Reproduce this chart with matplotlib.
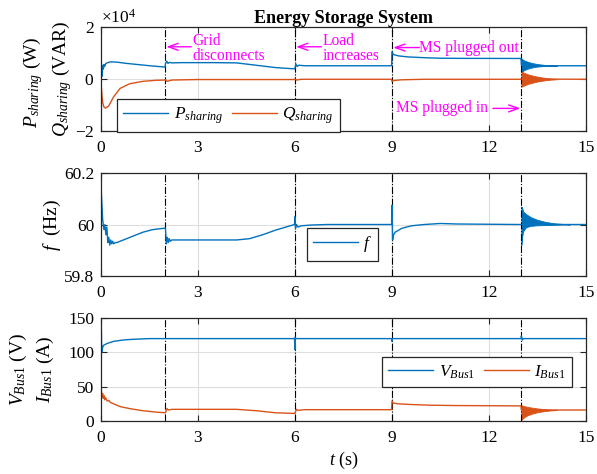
import matplotlib
matplotlib.use('Agg')
import matplotlib.pyplot as plt
from matplotlib.ticker import FormatStrFormatter

plt.rcParams['font.family'] = ['Liberation Serif', 'DejaVu Serif']
plt.rcParams['mathtext.fontset'] = 'custom'
plt.rcParams['mathtext.rm'] = 'Liberation Serif'
plt.rcParams['mathtext.it'] = 'Liberation Serif:italic'
plt.rcParams['mathtext.bf'] = 'Liberation Serif:bold'
plt.rcParams['axes.unicode_minus'] = False

BLUE = '#0072BD'
ORANGE = '#D95319'
MAG = '#FF00FF'

events = [2, 6, 9, 13]
xticks = [0, 3, 6, 9, 12, 15]

# ---- panel 1: power sharing (W / VAR) ----
t_p = [0, 0.02, 0.04, 0.06, 0.08, 0.1, 0.12, 0.16, 0.2, 0.3, 0.5, 0.8, 1.2, 1.6, 1.99,
       2.0, 2.04, 2.08, 2.12, 2.2, 2.5, 3.5, 4.2, 4.8, 5.4, 5.99,
       6.0, 6.03, 6.07, 6.12, 6.3, 7, 8.99,
       9.0, 9.05, 9.2, 9.5, 10, 10.5, 11, 12.99, 13.0, 13.1, 13.3, 13.6, 14.0, 15]
P = [0, 3500, 1000, 5200, 3800, 5600, 4800, 6000, 6200, 6600, 6500, 6000, 5500, 5000, 4600,
     5800, 6900, 6000, 6400, 6200, 6300, 6300, 6200, 5300, 4400, 3900,
     4000, 5800, 4800, 5300, 5100, 5100, 5100,
     10500, 9400, 8900, 8500, 8200, 8000, 7950, 7900, 5300, 5200, 5200, 5100, 5100, 5100]

t_q = [0, 0.03, 0.06, 0.1, 0.15, 0.25, 0.4, 0.6, 0.9, 1.3, 1.7, 1.99,
       2.0, 2.05, 2.2, 3, 5.99, 6.0, 6.05, 6.2, 8.99, 9.0, 9.05, 9.3, 10, 12.99, 13.0, 15]
Q = [0, -5000, -9000, -10800, -11200, -10300, -6800, -3600, -1800, -900, -500, -400,
     -200, -900, -400, -200, -200, 0, -400, -100, -100, -900, -600, -300, -100, -100, 0, -100]

# oscillation envelopes after the MS plug-in at 13 s
t_env = [13.0, 13.03, 13.1, 13.2, 13.35, 13.5, 13.7, 13.9, 14.1]
P_hi = [7900, 7600, 7100, 6600, 6100, 5750, 5450, 5250, 5100]
P_lo = [2800, 3000, 3500, 4000, 4500, 4800, 5000, 5080, 5100]
Q_hi = [2800, 2700, 2300, 1800, 1300, 900, 500, 200, 0]
Q_lo = [-2950, -2800, -2400, -1900, -1400, -950, -550, -250, -100]

# ---- panel 2: frequency (Hz) ----
t_f = [0, 0.02, 0.06, 0.1, 0.13, 0.16, 0.19, 0.22, 0.25, 0.28, 0.31, 0.34, 0.37, 0.4,
       0.45, 0.5, 0.6, 0.8, 1.0, 1.3, 1.6, 1.99,
       2.0, 2.03, 2.06, 2.09, 2.12, 2.15, 2.2, 2.3, 2.5, 3, 4.2, 4.6, 5.0, 5.4, 5.8, 5.99,
       6.0, 6.02, 6.05, 6.1, 6.2, 6.5, 7, 8.99,
       9.0, 9.02, 9.05, 9.1, 9.3, 9.6, 10, 10.5, 11, 12.99, 13.0, 14.0, 15]
f = [60.16, 60.12, 60.02, 59.98, 60.0, 59.96, 59.99, 59.93, 59.95, 59.92, 59.94, 59.925,
     59.935, 59.925, 59.93, 59.93, 59.935, 59.945, 59.955, 59.97, 59.98, 59.986,
     59.985, 59.925, 59.95, 59.93, 59.945, 59.935, 59.94, 59.94, 59.94, 59.94, 59.94, 59.945,
     59.96, 59.978, 59.993, 60.0,
     60.03, 59.985, 60.0, 59.99, 59.995, 59.998, 60.0, 60.0,
     60.075, 59.94, 59.96, 59.97, 59.985, 59.995, 60.0, 60.004, 60.002, 60.0, 60.0, 60.0, 60.0]
t_fenv = [13.0, 13.02, 13.06, 13.15, 13.3, 13.5, 13.75, 14.0, 14.3, 14.5]
f_hi = [60.07, 60.065, 60.05, 60.04, 60.028, 60.018, 60.01, 60.005, 60.002, 60.0]
f_lo = [59.92, 59.95, 59.975, 59.99, 59.995, 59.997, 59.998, 59.999, 60.0, 60.0]

# ---- panel 3: bus voltage (V) and current (A) ----
t_v = [0, 0.01, 0.02, 0.03, 0.05, 0.08, 0.12, 0.2, 0.4, 0.7, 1.0, 1.5, 5.99,
       6.0, 6.01, 6.03, 8.99, 9.0, 9.02, 12.99, 13.0, 13.03, 13.06, 15]
V = [0, 60, 130, 100, 105, 110, 111, 113, 116, 118, 119, 120, 120,
     104, 122, 120, 120, 116, 120, 120, 124, 118, 120, 120]

t_i = [0, 0.01, 0.02, 0.04, 0.06, 0.08, 0.1, 0.12, 0.15, 0.2, 0.25, 0.3, 0.4, 0.6, 0.9,
       1.3, 1.7, 1.99, 2.0, 2.05, 2.1, 2.2, 3, 4.2, 4.8, 5.4, 5.99,
       6.0, 6.05, 6.1, 6.3, 8.99, 9.0, 9.05, 9.2, 9.6, 10.2, 11, 12.99, 13.0, 13.5, 15]
I = [5, 50, 45, 35, 40, 33, 37, 31, 34, 29, 30, 27, 25, 21, 18,
     15, 13, 12, 12, 18, 16, 17, 17, 17, 15, 12, 11,
     11, 17, 15.5, 16.5, 16.5, 29, 26, 25, 24, 23, 22.5, 22, 16, 16, 16]
I_hi = [23, 22.5, 21.5, 20.5, 19.3, 18.3, 17.3, 16.6, 16]
I_lo = [1.5, 3, 6, 8.5, 11, 12.8, 14.3, 15.4, 16]

fig = plt.figure(figsize=(5.97, 4.74), dpi=100)
left, width = 0.1687, 0.813
ax1 = fig.add_axes([left, 0.7236, width, 0.2194])
ax2 = fig.add_axes([left, 0.4177, width, 0.2173])
ax3 = fig.add_axes([left, 0.1118, width, 0.2173])

for ax in (ax1, ax2, ax3):
    ax.set_xlim(0, 15)
    ax.set_xticks(xticks)
    ax.grid(True, color='#dedede', lw=0.8)
    ax.set_axisbelow(True)
    for e in events:
        ax.axvline(e, color='black', ls='-.', lw=0.8, zorder=1.5)
    ax.tick_params(direction='in', top=True, right=True, length=4, width=0.8,
                   labelsize=12.5, colors='#262626', labelcolor='black')
    ax.tick_params(axis='x', pad=6.5)
    ax.tick_params(axis='y', pad=4.5)
    for s in ax.spines.values():
        s.set_linewidth(0.9)
        s.set_color('#262626')

legkw = dict(loc='lower left', borderaxespad=0, fancybox=False, framealpha=1,
             edgecolor='#262626', fontsize=12.5, handlelength=2.6, handletextpad=0.3,
             borderpad=0.35)

# top panel
ax1.plot(t_p, P, color=BLUE, lw=1.0, label='$P_{sharing}$')
ax1.plot(t_q, Q, color=ORANGE, lw=1.0, label='$Q_{sharing}$')
ax1.fill_between(t_env, P_lo, P_hi, color=BLUE, lw=0.6)
ax1.fill_between(t_env, Q_lo, Q_hi, color=ORANGE, lw=0.6)
ax1.set_ylim(-2e4, 2e4)
ax1.set_yticks([-2e4, 0, 2e4])
ax1.ticklabel_format(axis='y', style='sci', scilimits=(0, 0), useMathText=True)
ax1.yaxis.get_offset_text().set_fontsize(12.5)
ax1.set_title('Energy Storage System', fontweight='bold', fontsize=13, pad=3)
ax1.text(-0.14, 0.47, '$P_{sharing}$ (W)', transform=ax1.transAxes, rotation=90,
         ha='center', va='center', fontsize=14)
ax1.text(-0.08, 0.5, '$Q_{sharing}$ (VAR)', transform=ax1.transAxes, rotation=90,
         ha='center', va='center', fontsize=14)
leg1 = ax1.legend(bbox_to_anchor=(0.034, -0.01), ncol=2, columnspacing=0.5, **legkw)
leg1.get_frame().set_linewidth(0.9)

arrow = dict(arrowstyle='->,head_length=0.7,head_width=0.25', color=MAG, lw=1.0,
             shrinkA=0, shrinkB=0)
ax1.annotate('', xy=(2.03, 12400), xytext=(2.8, 12400), arrowprops=arrow)
ax1.text(2.83, 11800, 'Grid\ndisconnects', color=MAG, ha='left', va='center',
         fontsize=11.2, linespacing=0.95)
ax1.annotate('', xy=(6.04, 12400), xytext=(6.82, 12400), arrowprops=arrow)
ax1.text(6.85, 11800, 'Load\nincreases', color=MAG, ha='left', va='center',
         fontsize=11.2, linespacing=0.95)
ax1.annotate('', xy=(9.04, 12100), xytext=(9.85, 12100), arrowprops=arrow)
ax1.text(9.84, 12100, 'MS plugged out', color=MAG, ha='left', va='center', fontsize=11.2)
ax1.text(9.13, -11300, 'MS plugged in', color=MAG, ha='left', va='center', fontsize=11.2)
ax1.annotate('', xy=(12.97, -11300), xytext=(12.12, -11300), arrowprops=arrow)

# middle panel
ax2.plot(t_f, f, color=BLUE, lw=1.0, label='$f$')
ax2.fill_between(t_fenv, f_lo, f_hi, color=BLUE, lw=0.6)
ax2.set_ylim(59.8, 60.2)
ax2.set_yticks([59.8, 60.0, 60.2])
ax2.yaxis.set_major_formatter(FormatStrFormatter('%g'))
ax2.text(-0.1, 0.5, '$f$  (Hz)', transform=ax2.transAxes, rotation=90,
         ha='center', va='center', fontsize=14)
leg2 = ax2.legend(bbox_to_anchor=(0.425, 0.15), **legkw)
leg2.get_frame().set_linewidth(0.9)

# bottom panel
ax3.plot(t_v, V, color=BLUE, lw=1.0, label=r'$V_{\mathit{Bus1}}$')
ax3.plot(t_i, I, color=ORANGE, lw=1.0, label=r'$I_{\mathit{Bus1}}$')
ax3.fill_between(t_env, I_lo, I_hi, color=ORANGE, lw=0.6)
ax3.set_ylim(0, 150)
ax3.set_yticks([0, 50, 100, 150])
ax3.text(-0.17, 0.5, r'$V_{\mathit{Bus1}}$ (V)', transform=ax3.transAxes, rotation=90,
         ha='center', va='center', fontsize=14)
ax3.text(-0.113, 0.5, r'$I_{\mathit{Bus1}}$ (A)', transform=ax3.transAxes, rotation=90,
         ha='center', va='center', fontsize=14)
ax3.set_xlabel('$t$ (s)', fontsize=13, labelpad=3)
leg3 = ax3.legend(bbox_to_anchor=(0.58, 0.33), ncol=2, columnspacing=0.5, **legkw)
leg3.get_frame().set_linewidth(0.9)

fig.savefig('out.png', dpi=100)
